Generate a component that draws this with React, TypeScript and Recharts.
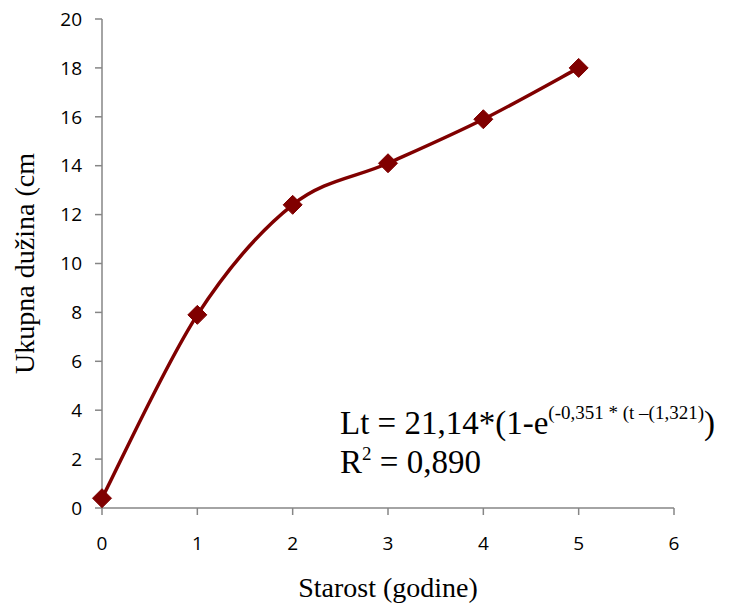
import { LineChart, Line, XAxis, YAxis, Customized } from 'recharts';

const ages = [0, 1, 2, 3, 4, 5];
const lengths = [0.4, 7.9, 12.4, 14.1, 15.9, 18.0];
const xTicks = [0, 1, 2, 3, 4, 5, 6];
const yTicks = [0, 2, 4, 6, 8, 10, 12, 14, 16, 18, 20];

const data = ages.map((age, i) => ({ age, length: lengths[i] }));

const RED = '#800000';
const AXIS = '#868686';
const SERIF = '"Liberation Serif", "Times New Roman", serif';
const SANS = '"Open Sans", "Noto Sans", sans-serif';

// Excel-style smoothed line (Catmull-Rom through the points)
const excelCurve = (context: any) => {
  let pts: number[][] = [];
  return {
    areaStart() {},
    areaEnd() {},
    lineStart() {
      pts = [];
    },
    point(x: number, y: number) {
      pts.push([+x, +y]);
    },
    lineEnd() {
      if (!pts.length) return;
      context.moveTo(pts[0][0], pts[0][1]);
      for (let i = 0; i < pts.length - 1; i++) {
        const p0 = pts[i - 1] || pts[i];
        const p1 = pts[i];
        const p2 = pts[i + 1];
        const p3 = pts[i + 2] || p2;
        context.bezierCurveTo(
          p1[0] + (p2[0] - p0[0]) / 6,
          p1[1] + (p2[1] - p0[1]) / 6,
          p2[0] - (p3[0] - p1[0]) / 6,
          p2[1] - (p3[1] - p1[1]) / 6,
          p2[0],
          p2[1]
        );
      }
    },
  };
};

const Diamond = (props: any) => {
  const { cx, cy, index } = props;
  const r = 9.5;
  return (
    <polygon
      key={`d-${index}`}
      points={`${cx},${cy - r} ${cx + r},${cy} ${cx},${cy + r} ${cx - r},${cy}`}
      fill={RED}
      stroke={RED}
      strokeWidth={1}
    />
  );
};

// trendline equation
const Formula = () => (
  <g fontFamily={SERIF} fill="#000">
    <text x={340} y={434} fontSize={33}>
      Lt = 21,14*(1-e
      <tspan dy={-15} fontSize={19}>(-0,351 * (t –(1,321)</tspan>
      <tspan dy={15}>)</tspan>
    </text>
    <text x={340} y={473} fontSize={33}>
      R<tspan dy={-13} fontSize={19}>2</tspan>
      <tspan dy={13}> = 0,890</tspan>
    </text>
  </g>
);

export default function App() {
  return (
    <div style={{ position: 'absolute', left: 0, top: 0, background: '#fff' }}>
      <LineChart
        width={735}
        height={612}
        data={data}
        margin={{ top: 19, right: 61, bottom: 0, left: 0 }}
      >
        <XAxis
          type="number"
          dataKey="age"
          domain={[0, 6]}
          ticks={xTicks}
          height={104}
          tickSize={7}
          tickMargin={22}
          axisLine={{ stroke: AXIS, strokeWidth: 1.5 }}
          tickLine={{ stroke: AXIS, strokeWidth: 1.5 }}
          tick={{ fill: '#000', fontSize: 19, fontFamily: SANS }}
          label={{
            value: 'Starost (godine)',
            position: 'insideBottom',
            offset: 15,
            style: { fill: '#000', fontSize: 28, fontFamily: SERIF },
          }}
        />
        <YAxis
          type="number"
          domain={[0, 20]}
          ticks={yTicks}
          width={102}
          tickSize={7}
          tickMargin={13}
          axisLine={{ stroke: AXIS, strokeWidth: 1.5 }}
          tickLine={{ stroke: AXIS, strokeWidth: 1.5 }}
          tick={{ fill: '#000', fontSize: 19, fontFamily: SANS }}
          label={{
            value: 'Ukupna dužina (cm',
            angle: -90,
            position: 'insideLeft',
            offset: 24,
            style: { fill: '#000', fontSize: 28, fontFamily: SERIF, textAnchor: 'middle' },
          }}
        />
        <Line
          dataKey="length"
          type={excelCurve as any}
          stroke={RED}
          strokeWidth={3.5}
          dot={Diamond}
          activeDot={false}
          isAnimationActive={false}
        />
        <Customized component={Formula} />
      </LineChart>
    </div>
  );
}
